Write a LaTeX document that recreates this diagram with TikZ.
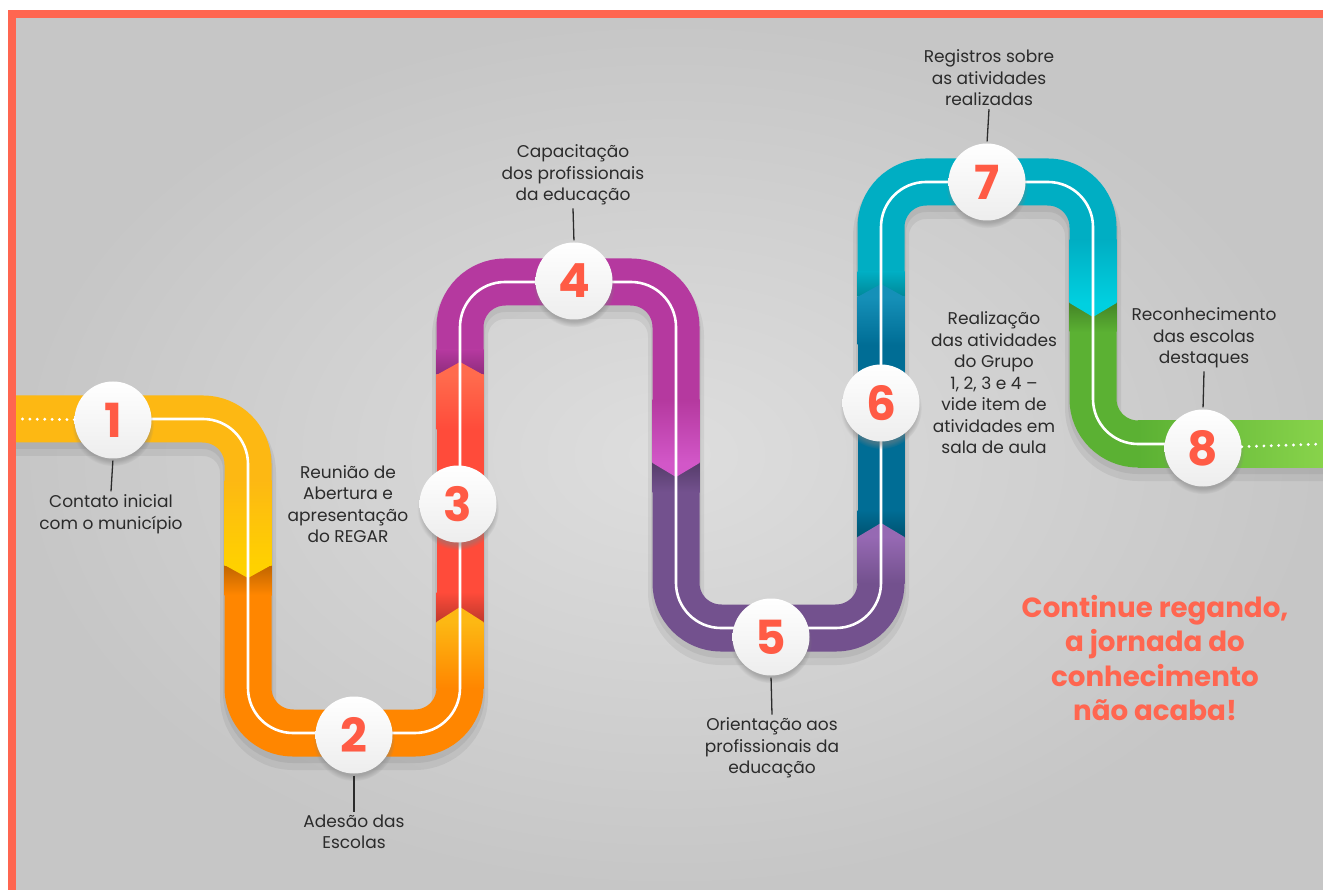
\documentclass[tikz,border=0pt]{standalone}
\usepackage{fontspec}
\setmainfont{Poppins}
\usetikzlibrary{shadows}
\definecolor{frameOrange}{HTML}{FF6650}
\definecolor{numRed}{HTML}{FF5B45}
\definecolor{bgLight}{HTML}{DEDEDE}
\definecolor{bgDark}{HTML}{C6C6C6}
\definecolor{labelGray}{HTML}{2B2B2B}
\definecolor{segYellow}{HTML}{FDB813}
\definecolor{segYellowB}{HTML}{FFD100}
\definecolor{segOrange}{HTML}{FF8600}
\definecolor{segRed}{HTML}{FF4B3A}
\definecolor{segRedL}{HTML}{FF6B4D}
\definecolor{segMagenta}{HTML}{B5399F}
\definecolor{segMagentaL}{HTML}{D257C8}
\definecolor{segPurple}{HTML}{73518E}
\definecolor{segPurpleL}{HTML}{9669B3}
\definecolor{segBlue}{HTML}{006D95}
\definecolor{segBlueL}{HTML}{1590B8}
\definecolor{segCyan}{HTML}{00AEC3}
\definecolor{segCyanL}{HTML}{00D0E0}
\definecolor{segGreen}{HTML}{5BB133}
\definecolor{segGreenL}{HTML}{88D34B}
\tikzset{
  band/.style={line width=47pt, rounded corners=45pt},
  bandshadow/.style={draw=black, opacity=0.06, line width=#1, rounded corners=45pt},
  roadline/.style={draw=white, line width=2.6pt, rounded corners=45pt},
  dotline/.style={draw=white, line width=3.2pt, line cap=round, dash pattern=on 0pt off 7.4pt},
  stepnum/.style={
    circle,
    minimum size=77pt,
    inner sep=0pt,
    top color=white,
    bottom color=black!7,
    circular drop shadow={shadow xshift=0pt, shadow yshift=-5pt, shadow scale=1.06, opacity=.5},
    text=numRed,
    font=\fontsize{47}{47}\selectfont\bfseries},
  steplabel/.style={align=center, text=labelGray, inner sep=3pt,
    font=\fontsize{17}{21.5}\selectfont},
  tick/.style={draw=labelGray, line width=1.3pt, shorten <=2pt},
  closing/.style={align=center, text=frameOrange,
    font=\fontsize{27.7}{34.3}\selectfont\bfseries},
}
% chevron: x, edge y, peak y, colour
\newcommand{\chevron}[4]{\fill[#4] (#1-23.5,#2) -- (#1,#3) -- (#1+23.5,#2) -- cycle;}

\begin{document}
\begin{tikzpicture}[x=1pt,y=1pt]
  \useasboundingbox (0,0) rectangle (1323,-890);
  \fill[white] (0,0) rectangle (1323,-890);
  \fill[frameOrange] (8,-10) rectangle (1323,-890);
  \shade[inner color=bgLight, outer color=bgDark] (16,-19) rectangle (1323,-890);

  % shadow under the road
  \draw[bandshadow=56pt, yshift=-9] (16,-419) -| (248,-733) -| (460,-282) -| (676,-628) -| (881,-182) -| (1093,-444) -- (1323,-444);
  \draw[bandshadow=50pt, yshift=-5] (16,-419) -| (248,-733) -| (460,-282) -| (676,-628) -| (881,-182) -| (1093,-444) -- (1323,-444);

  % road segments
  \draw[band, segYellow] (16,-419) -| (248,-565);
  \draw[band, segOrange] (248,-565) |- (354,-733) -| (460,-622);
  \draw[band, segRed] (460,-622) -- (460,-375);
  \draw[band, segMagenta] (460,-375) |- (568,-282) -| (676,-463);
  \draw[band, segPurple] (676,-463) |- (778,-628) -| (881,-537);
  \draw[band, segBlue] (881,-537) -- (881,-297);
  \draw[band, segCyan] (881,-297) |- (987,-182) -| (1093,-303);
  \draw[band, segGreen] (1093,-303) |- (1323,-444);

  % dark ends after each point
  \shade[top color=segOrange!75!black, bottom color=segOrange] (224.5,-565) rectangle (271.5,-595);
  \shade[bottom color=segRed!75!black, top color=segRed] (436.5,-622) rectangle (483.5,-592);
  \shade[bottom color=segMagenta!78!black, top color=segMagenta] (436.5,-375) rectangle (483.5,-350);
  \shade[top color=segPurple!75!black, bottom color=segPurple] (652.5,-463) rectangle (699.5,-492);
  \shade[bottom color=segBlue!75!black, top color=segBlue] (857.5,-537) rectangle (904.5,-510);
  \shade[bottom color=segCyan!78!black, top color=segCyan] (857.5,-297) rectangle (904.5,-272);
  \shade[top color=segGreen!75!black, bottom color=segGreen] (1069.5,-303) rectangle (1116.5,-332);

  % light tips
  \shade[top color=segYellow, bottom color=segYellowB] (224.5,-480) rectangle (271.5,-565);
  \shade[bottom color=segOrange, top color=segYellow] (436.5,-688) rectangle (483.5,-622);
  \shade[top color=segRedL, bottom color=segRed] (436.5,-375) rectangle (483.5,-430);
  \shade[top color=segMagenta, bottom color=segMagentaL] (652.5,-400) rectangle (699.5,-463);
  \shade[top color=segPurpleL, bottom color=segPurple] (857.5,-537) rectangle (904.5,-583);
  \shade[top color=segBlueL, bottom color=segBlue] (857.5,-297) rectangle (904.5,-345);
  \shade[top color=segCyan, bottom color=segCyanL] (1069.5,-240) rectangle (1116.5,-303);
  \shade[left color=segGreen, right color=segGreenL] (1138,-420.5) rectangle (1323,-467.5);

  \chevron{248}{-565}{-578}{segYellowB}
  \chevron{460}{-622}{-607}{segYellow}
  \chevron{460}{-375}{-362}{segRedL}
  \chevron{676}{-463}{-477}{segMagentaL}
  \chevron{881}{-537}{-523}{segPurpleL}
  \chevron{881}{-297}{-284}{segBlueL}
  \chevron{1093}{-303}{-317}{segCyanL}

  % white middle line
  \draw[roadline] (113,-419) -| (248,-733) -| (460,-282) -| (676,-628) -| (881,-182) -| (1093,-444) -- (1203,-444);
  \coordinate (roadstart) at (16,-419);
  \coordinate (roadend) at (1323,-444);

  % steps
  \node[stepnum] (c1) at (113,-420) {1};
  \node[stepnum] (c2) at (354,-735) {2};
  \node[stepnum] (c3) at (458,-504) {3};
  \node[stepnum] (c4) at (574,-281) {4};
  \node[stepnum] (c5) at (771,-637) {5};
  \node[stepnum] (c6) at (881,-403) {6};
  \node[stepnum] (c7) at (987,-182) {7};
  \node[stepnum] (c8) at (1203,-448) {8};

  \draw[dotline] (c1) -- (roadstart);
  \draw[dotline] (c8) -- (roadend);

  \node[steplabel] (t1) at (111,-514) {Contato inicial\\com o município};
  \node[steplabel] (t2) at (354,-832) {Adesão das\\Escolas};
  \node[steplabel] (t3) at (348,-504) {Reunião de\\Abertura e\\apresentação\\do REGAR};
  \node[steplabel] (t4) at (573,-175) {Capacitação\\dos profissionais\\da educação};
  \node[steplabel] (t5) at (772,-748) {Orientação aos\\profissionais da\\educação};
  \node[steplabel] (t6) at (994,-383) {Realização\\das atividades\\do Grupo\\1, 2, 3 e 4 –\\vide item de\\atividades em\\sala de aula};
  \node[steplabel] (t7) at (989,-78) {Registros sobre\\as atividades\\realizadas};
  \node[steplabel] (t8) at (1204,-338) {Reconhecimento\\das escolas\\destaques};

  \draw[tick] (c1.south) -- (t1.north);
  \draw[tick] (c2.south) -- (t2.north);
  \draw[tick] (c4.north) -- (t4.south);
  \draw[tick] (c5.south) -- (t5.north);
  \draw[tick] (c7.north) -- (t7.south);
  \draw[tick] (c8.north) -- (t8.south);

  \node[closing] (motto) at (1155,-658) {Continue regando,\\a jornada do\\conhecimento\\não acaba!};
\end{tikzpicture}
\end{document}
